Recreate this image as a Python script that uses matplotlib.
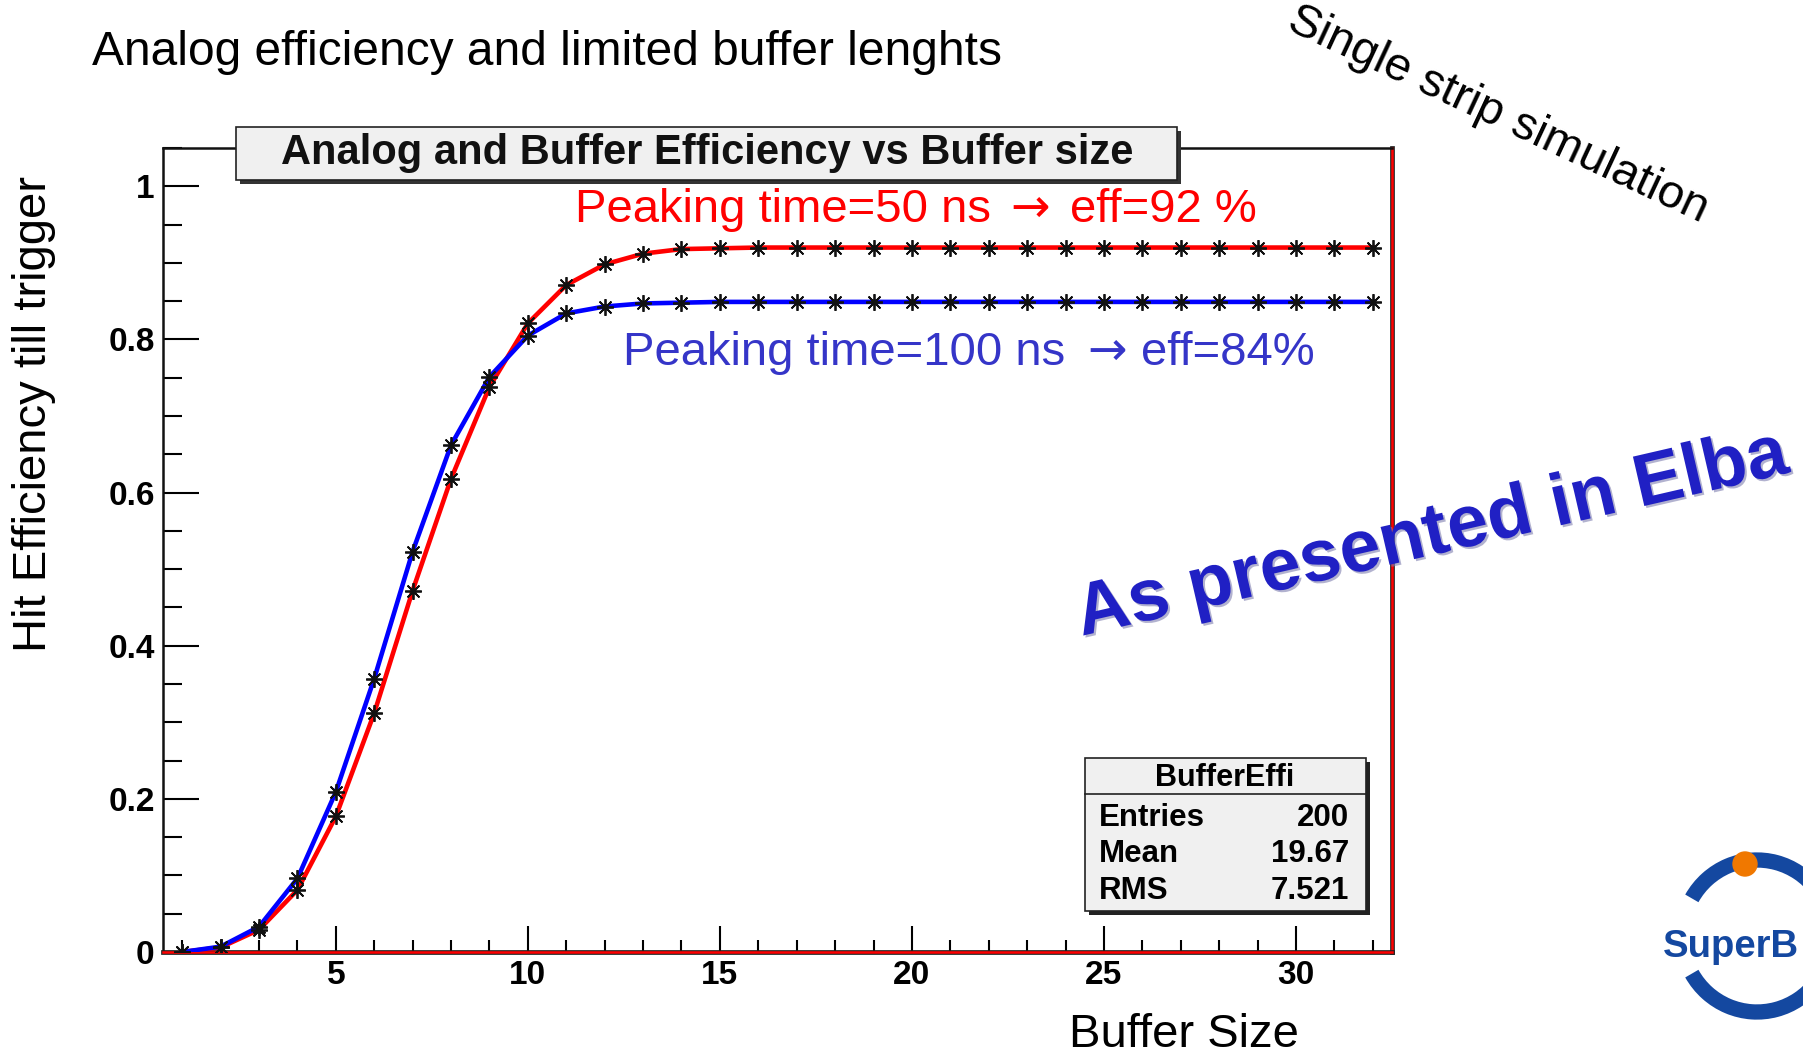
import matplotlib
matplotlib.use('Agg')
import matplotlib.pyplot as plt
import matplotlib.patheffects as pe
from matplotlib.patches import Rectangle, Arc, Circle
from matplotlib.ticker import MultipleLocator

plt.rcParams['font.family'] = ['Liberation Sans', 'DejaVu Sans']

# data
buffer_size = [1, 2, 3, 4, 5, 6, 7, 8, 9, 10, 11, 12, 13, 14, 15, 16,
               17, 18, 19, 20, 21, 22, 23, 24, 25, 26, 27, 28, 29, 30, 31, 32]
eff_50ns = [0.0, 0.006, 0.029, 0.081, 0.177, 0.312, 0.472, 0.618, 0.738, 0.821, 0.871,
            0.898, 0.912, 0.918, 0.919, 0.92, 0.92, 0.92, 0.92, 0.92, 0.92, 0.92,
            0.92, 0.92, 0.92, 0.92, 0.92, 0.92, 0.92, 0.92, 0.92, 0.92]
eff_100ns = [0.0, 0.007, 0.033, 0.096, 0.209, 0.357, 0.523, 0.662, 0.751, 0.805, 0.834,
             0.843, 0.847, 0.848, 0.849, 0.849, 0.849, 0.849, 0.849, 0.849, 0.849, 0.849,
             0.849, 0.849, 0.849, 0.849, 0.849, 0.849, 0.849, 0.849, 0.849, 0.849]

x_ticks = [5, 10, 15, 20, 25, 30]
y_ticks = [0, 0.2, 0.4, 0.6, 0.8, 1.0]
y_tick_labels = ['0', '0.2', '0.4', '0.6', '0.8', '1']

stats_names = ['Entries', 'Mean', 'RMS']
stats_values = ['200', '19.67', '7.521']

W, H = 1803, 1058
fig = plt.figure(figsize=(W / 100, H / 100), dpi=100)

# ---- main ROOT-like frame
ax = fig.add_axes([163 / W, 1 - 952 / H, 1229 / W, 804 / H])
star = (8, 2, 0)
ax.plot(buffer_size, eff_50ns, color='red', lw=3.3, zorder=3)
ax.plot(buffer_size, eff_50ns, ls='none', marker=star, ms=12, mec='#111111', mew=1.3, zorder=4)
ax.plot(buffer_size, eff_100ns, color='blue', lw=3.3, zorder=3)
ax.plot(buffer_size, eff_100ns, ls='none', marker=star, ms=12, mec='#111111', mew=1.3, zorder=4)

ax.set_xlim(0.5, 32.5)
ax.set_ylim(0, 1.05)
ax.set_xticks(x_ticks, [str(v) for v in x_ticks])
ax.xaxis.set_minor_locator(MultipleLocator(1))
ax.set_yticks(y_ticks, y_tick_labels)
ax.yaxis.set_minor_locator(MultipleLocator(0.05))
ax.tick_params(axis='x', which='major', direction='in', length=18.7, width=1.5, pad=6, labelsize=24)
ax.tick_params(axis='x', which='minor', direction='in', length=8.6, width=1.5)
ax.tick_params(axis='y', which='major', direction='in', length=26, width=1.5, pad=6, labelsize=24)
ax.tick_params(axis='y', which='minor', direction='in', length=13.7, width=1.5)
for lab in ax.get_xticklabels() + ax.get_yticklabels():
    lab.set_fontweight('bold')

for side in ['left', 'top']:
    ax.spines[side].set_linewidth(1.8)
    ax.spines[side].set_color('#111111')
for side in ['bottom', 'right']:
    ax.spines[side].set_linewidth(1.8)
    ax.spines[side].set_color('red')
    ax.spines[side].set_path_effects([pe.Stroke(linewidth=3.4, foreground='#222222'), pe.Normal()])

# ---- overlay in pixel coords for the slide text and boxes
ov = fig.add_axes([0, 0, 1, 1], zorder=5)
ov.set_xlim(0, W)
ov.set_ylim(H, 0)
ov.axis('off')
ov.patch.set_visible(False)

# title box
ov.add_patch(Rectangle((240, 131), 941, 53, fc='#333333', ec='none'))
ov.add_patch(Rectangle((236, 127), 941, 53, fc='#f0f0f0', ec='#222222', lw=1.2))
ov.text(707, 164, 'Analog and Buffer Efficiency vs Buffer size', ha='center', va='baseline',
        fontsize=30, fontweight='bold', color='#111111')

# stats box
ov.add_patch(Rectangle((1089, 762), 281, 153, fc='#222222', ec='none'))
ov.add_patch(Rectangle((1085, 758), 281, 153, fc='#f0f0f0', ec='#222222', lw=1.2))
ov.plot([1085, 1366], [794, 794], color='#222222', lw=1.2)
ov.text(1225, 786, 'BufferEffi', ha='center', va='baseline', fontsize=22, fontweight='bold')
for i, (name, val) in enumerate(zip(stats_names, stats_values)):
    yb = 826 + i * 36.5
    ov.text(1099, yb, name, ha='left', va='baseline', fontsize=22.5, fontweight='bold')
    ov.text(1349, yb, val, ha='right', va='baseline', fontsize=22.5, fontweight='bold')

# curve labels (arrow taken from DejaVu, it is larger like the slide's)
red_lab = '#ff0000'
blue_lab = '#3535c8'
ov.text(575, 222, 'Peaking time=50 ns', color=red_lab, fontsize=34, va='baseline')
ov.text(1030, 222, '\u2192', color=red_lab, fontsize=34, va='baseline', ha='center', family='DejaVu Sans')
ov.text(1257, 222, 'eff=92 %', color=red_lab, fontsize=34, va='baseline', ha='right')
ov.text(623, 365, 'Peaking time=100 ns', color=blue_lab, fontsize=34, va='baseline')
ov.text(1107, 365, '\u2192', color=blue_lab, fontsize=34, va='baseline', ha='center', family='DejaVu Sans')
ov.text(1315, 365, 'eff=84%', color=blue_lab, fontsize=34, va='baseline', ha='right')

# slide texts
ov.text(92, 65, 'Analog efficiency and limited buffer lenghts', fontsize=34.5, va='baseline')
ov.text(34, 414, 'Hit Efficiency till trigger', rotation=90, ha='center', va='center', fontsize=34)
ov.text(1069, 1047, 'Buffer Size', fontsize=34, va='baseline')
ov.text(1498, 115, 'Single strip simulation', rotation=-25, ha='center', va='center', fontsize=34)
ov.text(1432, 535, 'As presented in Elba', rotation=13, rotation_mode='anchor', ha='center',
        va='center', fontsize=53, fontweight='bold', color='#2020c4',
        path_effects=[pe.withSimplePatchShadow(offset=(1.5, -1.5), shadow_rgbFace='#8080b0', alpha=0.6)])

# SuperB logo at the slide corner
ov.add_patch(Arc((1757, 936), 150, 152, theta1=-150, theta2=150, color='#1448a0', lw=11))
ov.add_patch(Circle((1745, 864), 12, color='#f07800', zorder=6))
ov.text(1663, 957, 'SuperB', ha='left', va='baseline', fontsize=27.5, fontweight='bold',
        color='#1448a0')

fig.savefig('out.png', dpi=100)
